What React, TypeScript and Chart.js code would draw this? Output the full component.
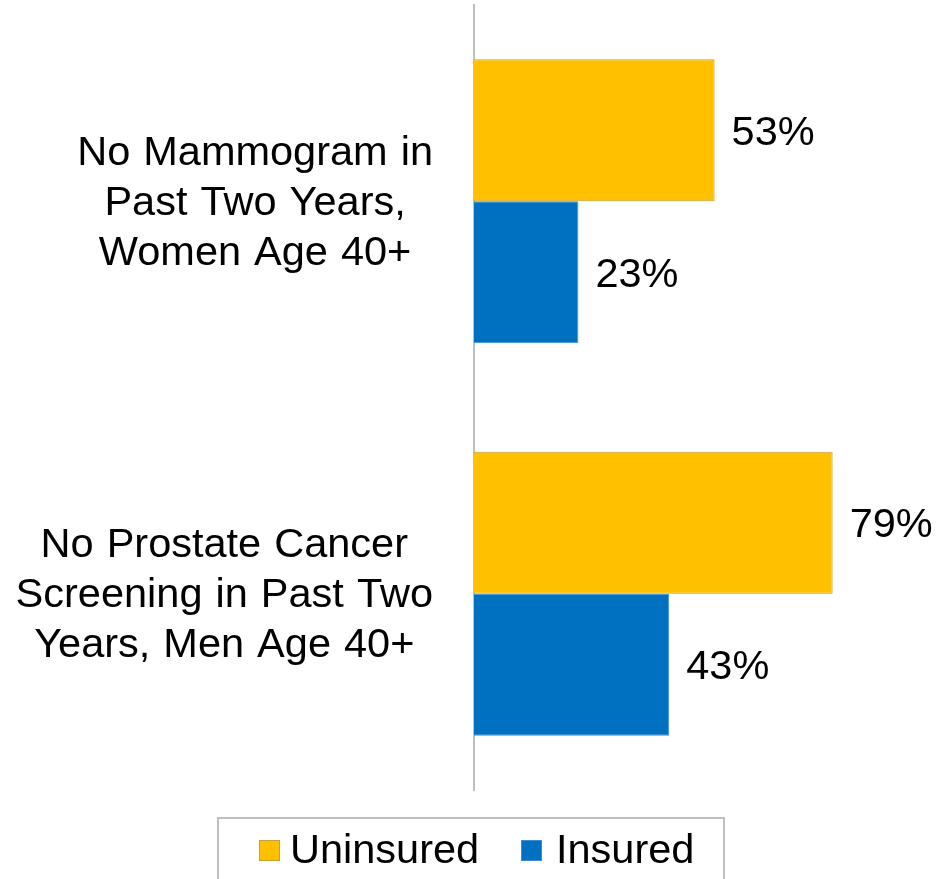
import React, { useEffect, useRef } from "react";
import { Chart, registerables } from "chart.js";

Chart.register(...registerables);

const categories: string[][] = [
  ["No Mammogram in", "Past Two Years,", "Women Age 40+"],
  ["No Prostate Cancer", "Screening in Past Two", "Years, Men Age 40+"],
];
const seriesNames = ["Uninsured", "Insured"];
const uninsured = [53, 79];
const insured = [23, 43];

const FONT = "'Liberation Sans', Arial, sans-serif";
const SIZE = 41.5;

const labelsPlugin = {
  id: "customLabels",
  afterDatasetsDraw(chart: any) {
    const ctx = chart.ctx;
    ctx.save();
    ctx.fillStyle = "#000";
    ctx.font = `${SIZE}px ${FONT}`;
    ctx.textBaseline = "middle";
    ctx.textAlign = "left";
    chart.data.datasets.forEach((ds: any, di: number) => {
      const meta = chart.getDatasetMeta(di);
      meta.data.forEach((el: any, i: number) => {
        ctx.fillText(`${ds.data[i]}%`, el.x + 17, el.y + 3);
      });
    });
    // category labels
    const yScale = chart.scales.y;
    const rightEdge = 433;
    const lineH = 50;
    try {
      (ctx as any).wordSpacing = "1.5px";
    } catch (e) {}
    categories.forEach((lines, i) => {
      const cy = yScale.getPixelForValue(i);
      let maxW = 0;
      lines.forEach((l) => (maxW = Math.max(maxW, ctx.measureText(l).width)));
      const cx = rightEdge - maxW / 2;
      ctx.textAlign = "center";
      lines.forEach((l, k) => {
        ctx.fillText(l, cx, cy + (k - (lines.length - 1) / 2) * lineH + 2);
      });
    });
    ctx.restore();
  },
  afterDraw(chart: any) {
    const ctx = chart.ctx;
    ctx.save();
    // legend box
    ctx.strokeStyle = "#c0c0c0";
    ctx.lineWidth = 2;
    ctx.strokeRect(218, 818, 506, 80);
    const items = [
      { x: 259, tx: 290 },
      { x: 521, tx: 556 },
    ];
    ctx.font = `${SIZE}px ${FONT}`;
    ctx.textBaseline = "middle";
    ctx.textAlign = "left";
    chart.data.datasets.forEach((ds: any, i: number) => {
      const it = items[i];
      ctx.fillStyle = ds.backgroundColor;
      ctx.fillRect(it.x, 840, 21, 21);
      ctx.strokeStyle = ds.borderColor;
      ctx.lineWidth = 1;
      ctx.strokeRect(it.x + 0.5, 840.5, 20, 20);
      ctx.fillStyle = "#000";
      ctx.fillText(ds.label, it.tx, 852);
    });
    ctx.restore();
  },
};

export default function App() {
  const ref = useRef<HTMLCanvasElement>(null);
  useEffect(() => {
    const chart = new Chart(ref.current!, {
      type: "bar",
      data: {
        labels: categories.map((c) => c.join(" ")),
        datasets: [
          {
            label: seriesNames[0],
            data: uninsured,
            backgroundColor: "#FFC000",
            borderColor: "#C8A03A",
            borderWidth: 1,
            categoryPercentage: 0.724,
            barPercentage: 1,
          },
          {
            label: seriesNames[1],
            data: insured,
            backgroundColor: "#0070C0",
            borderColor: "#3C8CD0",
            borderWidth: 1,
            categoryPercentage: 0.724,
            barPercentage: 1,
          },
        ],
      },
      options: {
        indexAxis: "y",
        animation: false,
        responsive: false,
        maintainAspectRatio: false,
        layout: { padding: { top: 5, right: 11, bottom: 89, left: 0 } },
        plugins: {
          legend: { display: false },
          tooltip: { enabled: false },
        },
        scales: {
          x: { display: false, min: 0, max: 100 },
          y: {
            display: true,
            grid: { display: false, drawTicks: false },
            ticks: { display: false },
            border: { display: true, color: "#bfbfbf", width: 2 },
            afterFit: (s: any) => {
              s.width = 474;
            },
          },
        },
      },
      plugins: [labelsPlugin],
    });
    return () => chart.destroy();
  }, []);
  return (
    <div style={{ position: "fixed", left: 0, top: 0, width: 939, height: 879, background: "#fff" }}>
      <canvas ref={ref} width={939} height={879} style={{ width: 939, height: 879, display: "block" }} />
    </div>
  );
}
